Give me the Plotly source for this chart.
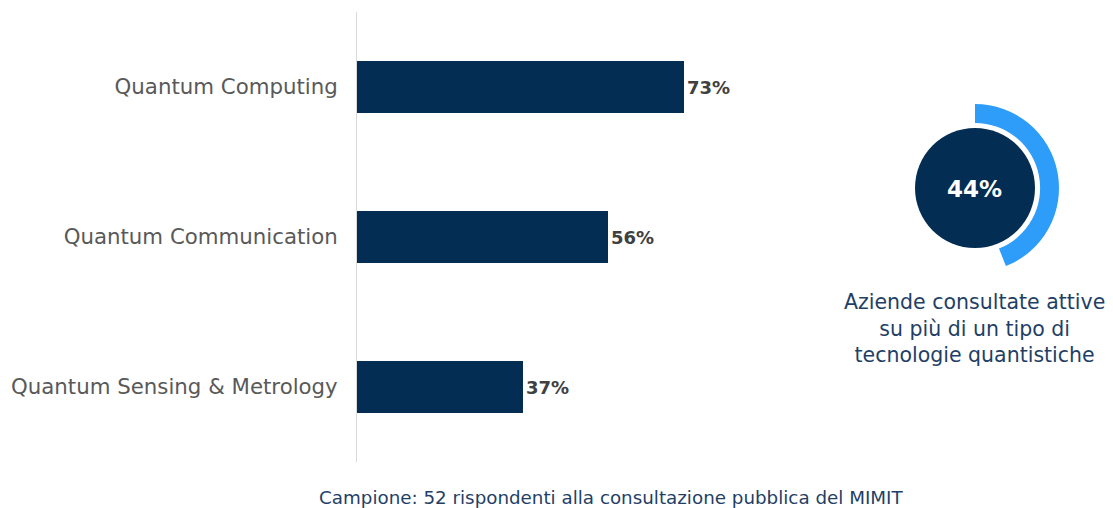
import plotly.graph_objects as go

W, H = 1113, 508

categories = ["Quantum Computing", "Quantum Communication", "Quantum Sensing & Metrology"]
values = [73, 56, 37]
donut_value = 44
donut_label = "44%"
donut_caption = "Aziende consultate attive<br>su più di un tipo di<br>tecnologie quantistiche"
footer = "Campione: 52 rispondenti alla consultazione pubblica del MIMIT"

NAVY = "#032D52"
BLUE = "#2E9DFA"
FONT = "DejaVu Sans"

def px_x(p):
    return p / W

def px_y(p):
    return (H - p) / H

fig = go.Figure()

fig.add_trace(go.Bar(
    y=categories, x=values, orientation="h",
    marker=dict(color=NAVY, line=dict(width=0)),
    width=0.35,
    text=[f"<b>{v}%</b>" for v in values],
    textposition="outside",
    textfont=dict(family=FONT, size=18, color="#404040"),
    cliponaxis=False,
    hoverinfo="skip",
    xaxis="x", yaxis="y",
))

# donut ring
cx, cy, ro = 975, 188, 84
fig.add_trace(go.Pie(
    values=[donut_value, 100 - donut_value],
    marker=dict(colors=[BLUE, "rgba(0,0,0,0)"], line=dict(width=0)),
    hole=0.775,
    sort=False,
    direction="clockwise",
    rotation=0,
    textinfo="none",
    hoverinfo="skip",
    showlegend=False,
    domain=dict(x=[px_x(cx - ro), px_x(cx + ro)], y=[px_y(cy + ro), px_y(cy - ro)]),
))

fig.update_layout(
    width=W, height=H,
    margin=dict(l=0, r=0, t=0, b=0),
    paper_bgcolor="white", plot_bgcolor="white",
    showlegend=False,
    bargap=0,
    font=dict(family=FONT),
    xaxis=dict(domain=[px_x(357), px_x(805)], range=[0, 100], visible=False, fixedrange=True),
    yaxis=dict(domain=[px_y(462), px_y(12)], range=[2.5, -0.5], type="category",
               categoryorder="array", categoryarray=categories,
               showline=True, linecolor="#D9D9D9", linewidth=1,
               showgrid=False, zeroline=False, ticks="",
               ticklabelstandoff=14, automargin=False,
               tickfont=dict(family=FONT, size=21.3, color="#595959")),
    shapes=[dict(type="circle", xref="paper", yref="paper",
                 x0=px_x(915), x1=px_x(1035), y0=px_y(248), y1=px_y(128),
                 fillcolor=NAVY, line=dict(width=0), layer="above")],
    annotations=[
        dict(text=f"<b>{donut_label}</b>", xref="paper", yref="paper",
             x=px_x(975), y=px_y(189), xanchor="center", yanchor="middle", showarrow=False,
             font=dict(family=FONT, size=23, color="white")),
        dict(text=donut_caption, xref="paper", yref="paper",
             x=px_x(974), y=px_y(328), xanchor="center", yanchor="middle",
             showarrow=False, align="center",
             font=dict(family=FONT, size=20.5, color="#1F3F66")),
        dict(text=footer, xref="paper", yref="paper",
             x=px_x(611), y=px_y(497), xanchor="center", yanchor="middle", showarrow=False,
             font=dict(family=FONT, size=18.3, color="#1F3F66")),
    ],
)

fig.write_html("out.html")
